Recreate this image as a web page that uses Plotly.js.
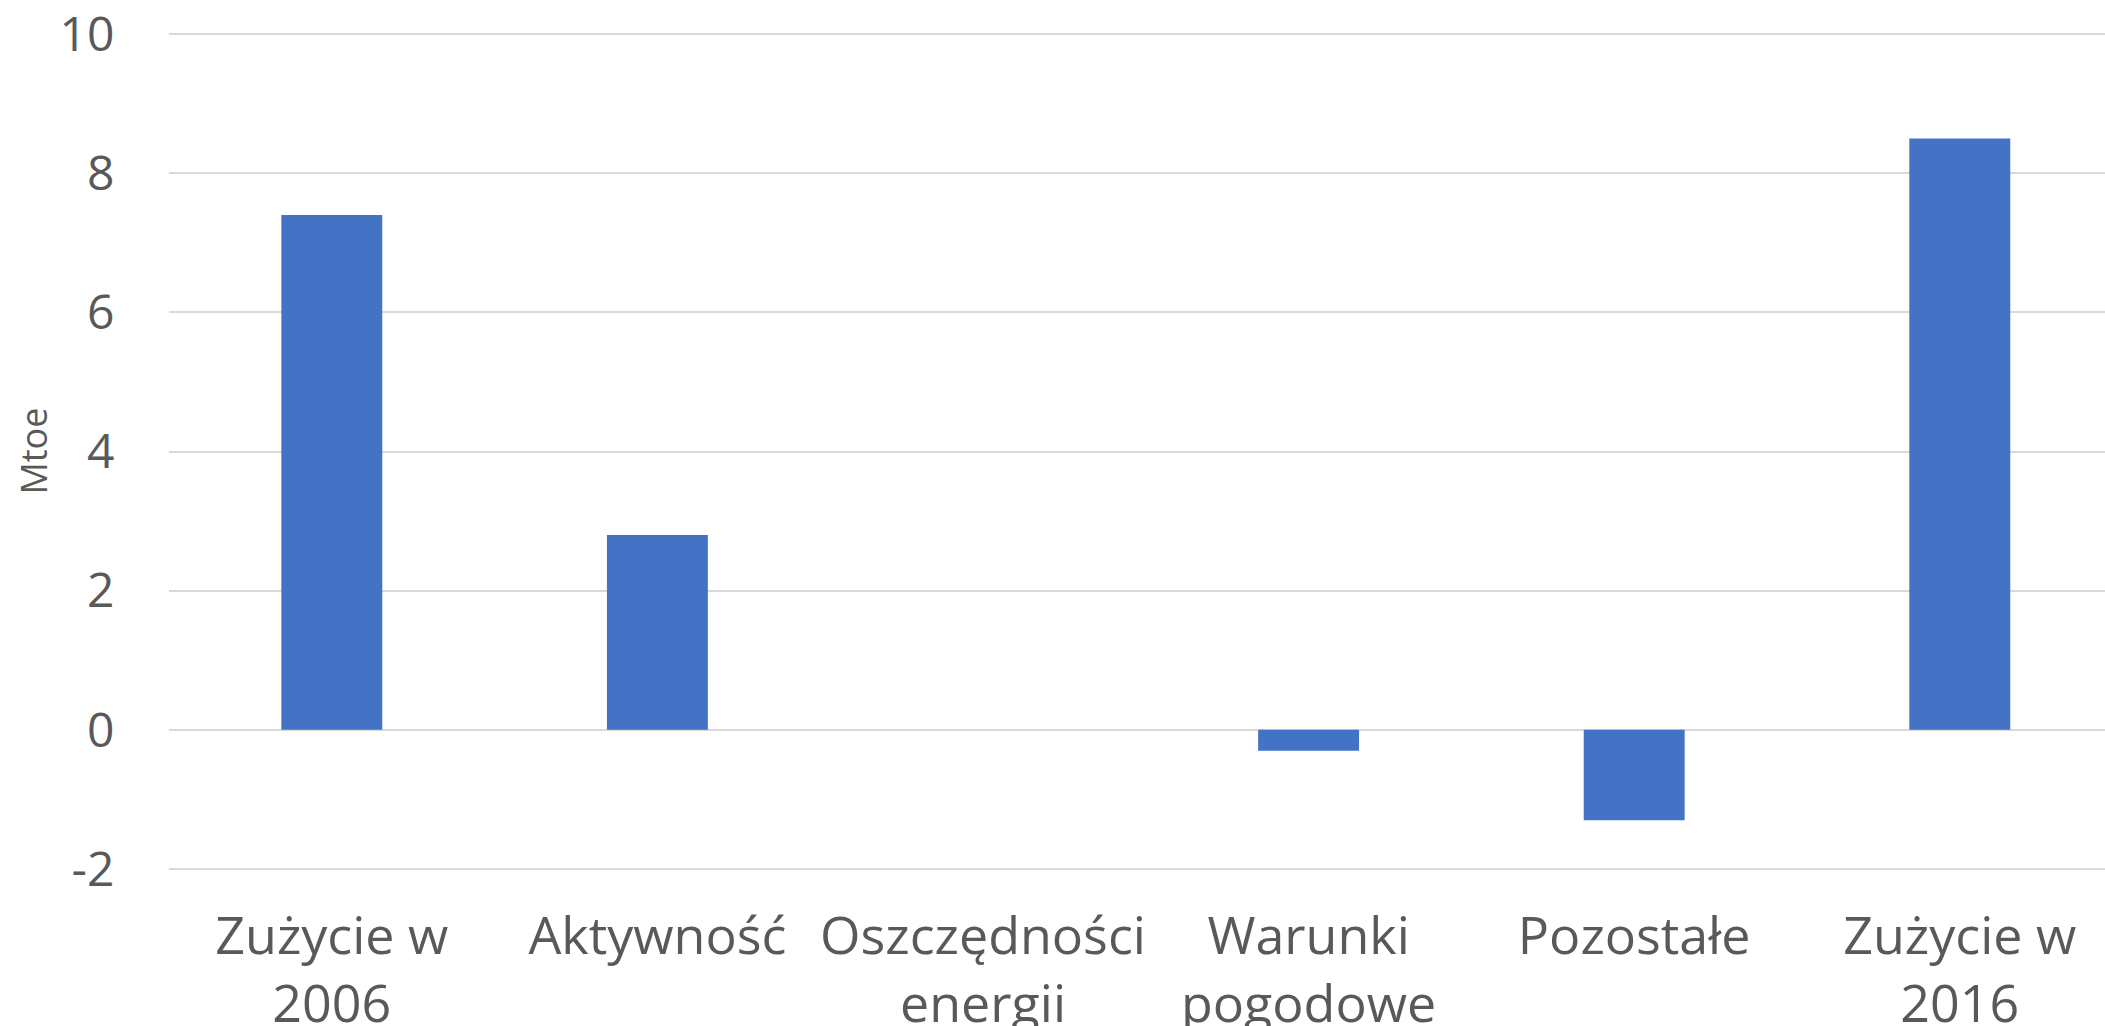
<!DOCTYPE html>
<html>
<head>
<meta charset="utf-8">
<script src="https://cdn.plot.ly/plotly-3.0.1.min.js"></script>
<style>html,body{margin:0;padding:0;background:#fff;}#chart{width:2105px;height:1026px;}</style>
</head>
<body>
<div id="chart"></div>
<script>
const categories = ["Zużycie w<br>2006", "Aktywność", "Oszczędności<br>energii", "Warunki<br>pogodowe", "Pozostałe", "Zużycie w<br>2016"];
const values = [7.4, 2.8, 0, -0.3, -1.3, 8.5];
const yTicks = [-2, 0, 2, 4, 6, 8, 10];
const yTitle = "Mtoe";

const font = "'Open Sans', 'Noto Sans', sans-serif";
const textColor = "#595959";

Plotly.newPlot("chart", [{
  type: "bar",
  x: categories,
  y: values,
  width: 0.31,
  marker: {color: "#4472C4"},
  hoverinfo: "x+y"
}], {
  width: 2105,
  height: 1026,
  margin: {l: 169, r: 0, t: 33, b: 156},
  paper_bgcolor: "#ffffff",
  plot_bgcolor: "#ffffff",
  showlegend: false,
  font: {family: font, color: textColor},
  xaxis: {
    type: "category",
    range: [-0.5, 5.446],
    showgrid: false,
    zeroline: false,
    showline: false,
    ticks: "outside",
    ticklen: 21,
    tickcolor: "rgba(0,0,0,0)",
    tickfont: {family: font, size: 52, color: textColor},
    tickangle: 0
  },
  yaxis: {
    range: [-2.015, 10.015],
    tickvals: yTicks,
    ticktext: yTicks.map(String),
    ticklabeloverflow: "allow",
    showgrid: true,
    gridcolor: "#d9d9d9",
    gridwidth: 2,
    zeroline: true,
    zerolinecolor: "#d9d9d9",
    zerolinewidth: 2,
    showline: false,
    ticks: "outside",
    ticklen: 44,
    tickcolor: "rgba(0,0,0,0)",
    tickfont: {family: font, size: 48, color: textColor}
  },
  annotations: [{
    text: yTitle,
    xref: "paper", yref: "paper",
    x: -0.0702, y: 0.5,
    xanchor: "center", yanchor: "middle",
    textangle: -90,
    showarrow: false,
    font: {family: font, size: 36, color: textColor}
  }]
}, {displayModeBar: false, staticPlot: true});
</script>
</body>
</html>
